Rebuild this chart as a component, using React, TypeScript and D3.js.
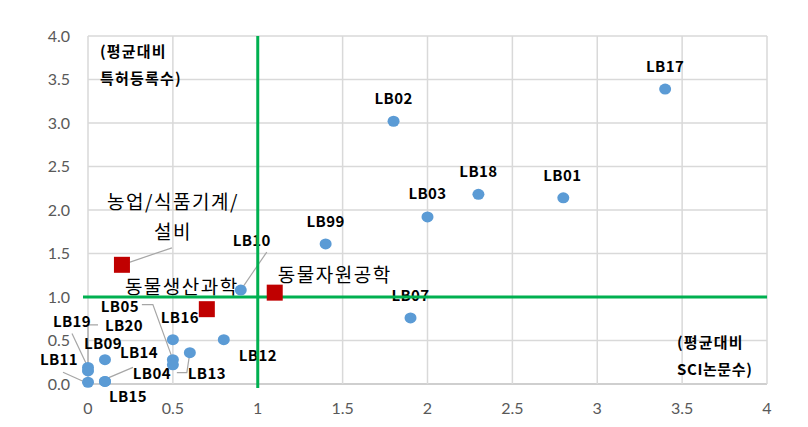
import React from "react";
import * as d3 from "d3";

const pointNames = ["LB17","LB02","LB18","LB01","LB03","LB99","LB10","LB07","LB12","LB16","LB13","LB05","LB04","LB09","LB19","LB20","LB11","LB14","LB15"];
const pointX = [3.4,1.8,2.3,2.8,2.0,1.4,0.9,1.9,0.8,0.5,0.6,0.5,0.5,0.1,0.0,0.0,0.0,0.1,0.1];
const pointY = [3.39,3.02,2.18,2.14,1.92,1.61,1.08,0.76,0.51,0.51,0.36,0.28,0.22,0.28,0.19,0.15,0.02,0.03,0.03];

const deptNames = ["농업/식품기계/\n설비","동물생산과학","동물자원공학"];
const deptX = [0.2,0.7,1.1];
const deptY = [1.37,0.86,1.05];

const xTicks = [0,0.5,1,1.5,2,2.5,3,3.5,4];
const yTicks = [0,0.5,1,1.5,2,2.5,3,3.5,4];
const xTickLabels = ["0","0.5","1","1.5","2","2.5","3","3.5","4"];
const yTickLabels = ["0.0","0.5","1.0","1.5","2.0","2.5","3.0","3.5","4.0"];
const refX = 1;
const refY = 1;

// label offsets (pixels, relative to point) and optional leader path offsets
const labelLayout: Record<string, { dx: number; dy: number; leader?: [number, number][] }> = {
  LB17: { dx: 0, dy: -22 },
  LB02: { dx: 0, dy: -23 },
  LB18: { dx: 0, dy: -23 },
  LB01: { dx: -1, dy: -22 },
  LB03: { dx: 0, dy: -23 },
  LB99: { dx: 0, dy: -22 },
  LB10: { dx: 11, dy: -49, leader: [[26, -38], [0, 0]] },
  LB07: { dx: 0, dy: -22 },
  LB12: { dx: 34, dy: 16 },
  LB16: { dx: 7, dy: -22 },
  LB13: { dx: 17, dy: 21, leader: [[-13, 20], [-3, 20], [0, 0]] },
  LB05: { dx: -53, dy: -53, leader: [[-31, -55], [-20, -55], [0, 0]] },
  LB04: { dx: -21, dy: 9 },
  LB09: { dx: -2, dy: -16 },
  LB19: { dx: -16, dy: -46, leader: [[-16, -34], [0, 0]] },
  LB20: { dx: 36, dy: -45, leader: [[10, -46], [0, -46], [0, 0]] },
  LB11: { dx: -29, dy: -23, leader: [[-25, -10], [-5, -1]] },
  LB14: { dx: 34, dy: -29, leader: [[28, -14], [-5, 0]] },
  LB15: { dx: 23, dy: 15 },
};

const deptLayout = [
  { dx: 51, dy: -63, leader: [[50, -17], [0, 0]] },
  { dx: -25, dy: -22 },
  { dx: 60, dy: -17 },
];

export default function App() {
  const W = 808, H = 427;
  const x = d3.scaleLinear().domain([0, 4]).range([88, 767]);
  const y = d3.scaleLinear().domain([0, 4]).range([384, 36]);
  const grid = "#d9d9d9";
  const lbFont = "'Noto Sans CJK KR', 'Noto Sans', sans-serif";
  const line = d3.line();

  return (
    <svg width={W} height={H} style={{ position: "absolute", left: 0, top: 0, background: "#fff" }}>
      <rect width={W} height={H} fill="#fff" />
      {yTicks.map((t) => (
        <line key={"gy" + t} x1={x(0)} x2={x(4)} y1={y(t)} y2={y(t)} stroke={t === 0 ? "#bfbfbf" : grid} strokeWidth={1.5} />
      ))}
      {xTicks.map((t) => (
        <line key={"gx" + t} x1={x(t)} x2={x(t)} y1={y(4)} y2={y(0)} stroke={grid} strokeWidth={1.5} />
      ))}
      {yTicks.map((t, i) => (
        <text key={"ty" + t} x={70} y={y(t)} dy="0.36em" textAnchor="end" fontSize={16} fill="#595959" fontFamily="Lato, 'Open Sans', sans-serif">
          {yTickLabels[i]}
        </text>
      ))}
      {xTicks.map((t, i) => (
        <text key={"tx" + t} x={x(t)} y={408} dy="0.36em" textAnchor="middle" fontSize={16} fill="#595959" fontFamily="Lato, 'Open Sans', sans-serif">
          {xTickLabels[i]}
        </text>
      ))}
      <text x={100} y={52} dy="0.36em" fontSize={15} letterSpacing={1.2} fontWeight={700} fontFamily={lbFont}>(평균대비</text>
      <text x={100} y={79} dy="0.36em" fontSize={15} letterSpacing={1.2} fontWeight={700} fontFamily={lbFont}>특허등록수)</text>
      <text x={677} y={343} dy="0.36em" fontSize={15} letterSpacing={1.2} fontWeight={700} fontFamily={lbFont}>(평균대비</text>
      <text x={677} y={370} dy="0.36em" fontSize={15} letterSpacing={0.6} fontWeight={700} fontFamily={lbFont}>SCI논문수)</text>
      {pointNames.map((n, i) => {
        const L = labelLayout[n];
        if (!L.leader) return null;
        const px = x(pointX[i]), py = y(pointY[i]);
        return (
          <path key={"ld" + n} d={line(L.leader.map(([a, b]) => [px + a, py + b]) as [number, number][]) || ""} fill="none" stroke="#a6a6a6" strokeWidth={1.2} />
        );
      })}
      {deptNames.map((n, i) => {
        const L = deptLayout[i];
        if (!L.leader) return null;
        const px = x(deptX[i]), py = y(deptY[i]);
        return (
          <path key={"dl" + i} d={line(L.leader.map(([a, b]) => [px + a, py + b]) as [number, number][]) || ""} fill="none" stroke="#a6a6a6" strokeWidth={1.2} />
        );
      })}
      {pointNames.map((n, i) => {
        const L = labelLayout[n];
        return (
          <text key={"l" + n} x={x(pointX[i]) + L.dx} y={y(pointY[i]) + L.dy} dy="0.36em" textAnchor="middle" fontSize={15} letterSpacing={0.4} fontWeight={700} fontFamily={lbFont} fill="#000">
            {n}
          </text>
        );
      })}
      {deptNames.map((n, i) => {
        const L = deptLayout[i];
        const lines = n.split("\n");
        return lines.map((s, j) => (
          <text key={"dt" + i + j} x={x(deptX[i]) + L.dx} y={y(deptY[i]) + L.dy + j * 30} dy="0.36em" textAnchor="middle" fontSize={19} letterSpacing={1.5} fontFamily={lbFont} fill="#000">
            {s}
          </text>
        ));
      })}
      <line x1={x(refX)} x2={x(refX)} y1={y(4)} y2={y(0) + 4} stroke="#00b050" strokeWidth={3} />
      <line x1={x(0) - 5} x2={x(4)} y1={y(refY)} y2={y(refY)} stroke="#00b050" strokeWidth={3} />
      {pointNames.map((n, i) => (
        <ellipse key={"p" + n} cx={x(pointX[i])} cy={y(pointY[i])} rx={6} ry={5.5} fill="#5b9bd5" />
      ))}
      {deptNames.map((n, i) => (
        <rect key={"d" + i} x={x(deptX[i]) - 8} y={y(deptY[i]) - 8} width={16} height={16} fill="#c00000" />
      ))}
    </svg>
  );
}
